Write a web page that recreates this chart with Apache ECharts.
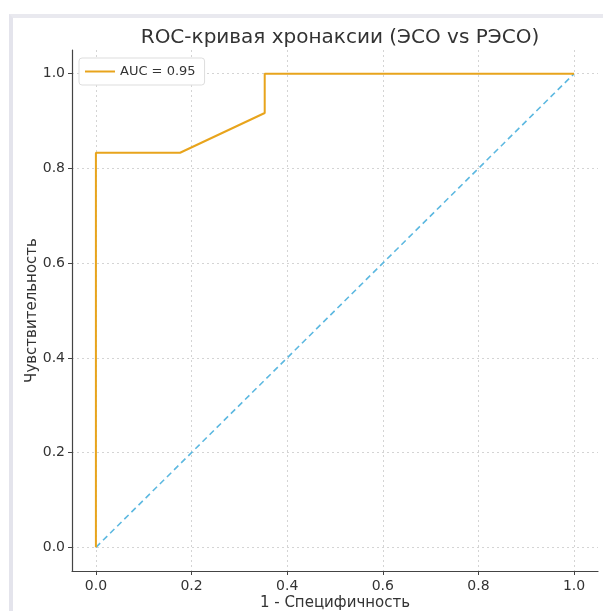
<!DOCTYPE html>
<html>
<head>
<meta charset="utf-8">
<script src="https://cdn.jsdelivr.net/npm/echarts@6/dist/echarts.min.js"></script>
<style>
    html, body { margin: 0; padding: 0; background: #fff; }
    #frame { position: absolute; left: 9px; top: 14px; width: 594px; height: 597px;
        border-left: 4px solid #e4e4ec; border-top: 4px solid #e9e9ef; box-sizing: border-box; }
    #main { position: absolute; left: 0; top: 0; width: 603px; height: 611px; }
</style>
</head>
<body>
<div id="frame"></div>
<div id="main"></div>
<script>
/* точки ROC-кривой */
var fprValues = [0, 0, 0.176, 0.353, 0.353, 1.0]
var tprValues = [0, 0.833, 0.833, 0.917, 1.0, 1.0]
/* диагональ случайного классификатора */
var diagX = [0, 1]
var diagY = [0, 1]
var tickValues = [0, 0.2, 0.4, 0.6, 0.8, 1.0]
var aucLabel = 'AUC = 0.95'

var font = 'DejaVu Sans'

function pairs (xs, ys) {
    var out = []
    for (var i = 0; i < xs.length; i++) {
        out.push([xs[i], ys[i]])
    }
    return out
}

function axisOpt (name, nameGap, isY) {
    return {
        type: 'value',
        min: -0.05,
        max: 1.05,
        name: name,
        nameLocation: 'middle',
        nameGap: nameGap,
        nameMoveOverlap: false,
        nameTextStyle: { fontFamily: font, fontSize: 15, color: '#333' },
        axisLine: { show: true, onZero: false, lineStyle: { color: '#444', width: 1.2 } },
        axisTick: { show: true, length: 4, customValues: tickValues, lineStyle: { color: '#444' } },
        axisLabel: {
            customValues: tickValues,
            fontFamily: font,
            fontSize: 14,
            color: '#333',
            margin: isY ? 7 : 8,
            formatter: function (v) { return v.toFixed(1) }
        },
        splitLine: { show: true, lineStyle: { color: '#d4d4d4', type: [2, 3], width: 1 } }
    }
}

var myChart = echarts.init(document.getElementById('main'))
var option = {
    animation: false,
    title: {
        text: 'ROC-кривая хронаксии (ЭСО vs РЭСО)',
        left: 335,
        textAlign: 'center',
        top: 23,
        textStyle: { fontFamily: font, fontSize: 20, fontWeight: 'normal', color: '#333' }
    },
    legend: {
        left: 79,
        top: 58,
        padding: [7, 9, 7, 6],
        backgroundColor: '#fff',
        borderColor: '#ddd',
        borderWidth: 1,
        borderRadius: 3,
        itemWidth: 30,
        itemHeight: 2,
        icon: 'rect',
        textStyle: { fontFamily: font, fontSize: 13, color: '#333' },
        data: [aucLabel]
    },
    grid: { left: 72, right: 5, top: 50, bottom: 40, outerBoundsMode: 'none' },
    xAxis: axisOpt('1 - Специфичность', 25, false),
    yAxis: axisOpt('Чувствительность', 32, true),
    series: [{
        name: 'diag',
        type: 'line',
        data: pairs(diagX, diagY),
        symbol: 'none',
        lineStyle: { color: '#5cb8e0', width: 1.6, type: [6, 4] },
        z: 1
    }, {
        name: aucLabel,
        type: 'line',
        data: pairs(fprValues, tprValues),
        symbol: 'none',
        itemStyle: { color: '#e8a41c' },
        lineStyle: { color: '#e8a41c', width: 2 },
        z: 2
    }]
}
myChart.setOption(option)
</script>
</body>
</html>
